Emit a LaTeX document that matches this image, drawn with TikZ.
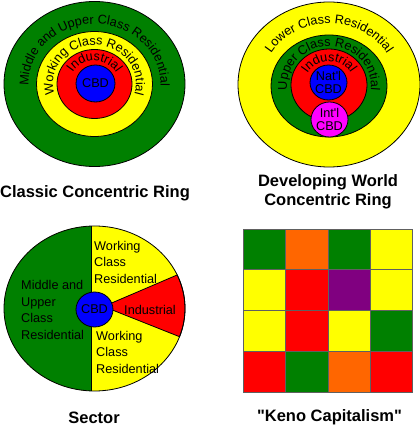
\documentclass[tikz,border=0pt]{standalone}
\usepackage{fontspec}
\setmainfont{Liberation Sans}[Ligatures=TeXOff]
\usetikzlibrary{decorations.text}
\definecolor{cgreen}{HTML}{008000}
\definecolor{cyellow}{HTML}{FFFF00}
\definecolor{cred}{HTML}{FF0000}
\definecolor{cblue}{HTML}{0000FF}
\definecolor{corange}{HTML}{FF6600}
\definecolor{cpurple}{HTML}{800080}
\definecolor{cpink}{HTML}{FF00FF}
\definecolor{gridline}{HTML}{606060}
\newcommand{\lblfont}{\fontsize{12.7}{16.5}\selectfont}
\newcommand{\twofont}{\fontsize{12.7}{12.5}\selectfont}
\newcommand{\ttlfont}{\fontsize{16.5}{18.5}\selectfont\bfseries}
\begin{document}
\begin{tikzpicture}[x=1pt,y=1pt,
  zone/.style={draw=black, line width=0.8pt},
  lbl/.style={font=\lblfont, inner sep=0pt},
  two/.style={font=\twofont, inner sep=0pt, align=center},
  ttl/.style={font=\ttlfont, inner sep=0pt, align=center},
  arclbl/.style={decorate, decoration={text along path, text align=center, text={|\lblfont|#1}}},
  cell/.style={draw=gridline, line width=0.6pt}]
\useasboundingbox (0,0) rectangle (420,426);

% ---------- Classic concentric ring ----------
\coordinate (a) at (94.5,342);
\fill[cgreen, zone] (a) ellipse[x radius=90.5, y radius=82.5];
\fill[cyellow, zone] (a) ellipse[x radius=58, y radius=52.5];
\fill[cred, zone] (a) ellipse[x radius=37.5, y radius=34.5];
\fill[cblue, zone] (95.5,342.5) ellipse[x radius=19.5, y radius=18.5];
\node[lbl] (acbd) at (95.5,342.5) {CBD};
\path[arclbl={Middle and Upper Class Residential}] ([shift={(200:66 and 60)}]a) arc[start angle=200, end angle=-20, x radius=66, y radius=60];
\path[arclbl={Working Class Residential}] ([shift={(230:41.5 and 39)}]a) arc[start angle=230, end angle=-50, x radius=41.5, y radius=39];
\path[arclbl={Industrial}] ([shift={(180:25 and 23)}]a) arc[start angle=180, end angle=0, x radius=25, y radius=23];
\node[ttl, anchor=base] (t1) at (95,228) {Classic Concentric Ring};

% ---------- Developing world ----------
\coordinate (b) at (329,341.5);
\coordinate (bg) at (329,340);
\coordinate (br) at (329,341);
\fill[cyellow, zone] (b) ellipse[x radius=91, y radius=82.5];
\fill[cgreen, zone] (bg) ellipse[x radius=58, y radius=51];
\fill[cred, zone] (br) ellipse[x radius=38, y radius=36];
\fill[cblue, zone] (328.5,343.5) ellipse[x radius=18.5, y radius=17.5];
\fill[cpink, zone] (329.5,306.5) ellipse[x radius=18.5, y radius=17.5];
\node[two] (nat) at (328.5,343.5) {Nat'l\\CBD};
\node[two] (intl) at (329.5,306.5) {Int'l\\CBD};
\path[arclbl={Lower Class Residential}] ([shift={(200:67 and 61)}]b) arc[start angle=200, end angle=-20, x radius=67, y radius=61];
\path[arclbl={Upper Class Residential}] ([shift={(230:42 and 39.5)}]bg) arc[start angle=230, end angle=-50, x radius=42, y radius=39.5];
\path[arclbl={Industrial}] ([shift={(180:25 and 23.5)}]br) arc[start angle=180, end angle=0, x radius=25, y radius=23.5];
\node[ttl, anchor=base] (t2a) at (328,239) {Developing World};
\node[ttl, anchor=base] (t2b) at (328,220.5) {Concentric Ring};

% ---------- Sector ----------
\coordinate (s) at (94.5,117.5);
\fill[cyellow] (s) ellipse[x radius=90.5, y radius=82.5];
\begin{scope}
  \clip (0,0) rectangle (91,426);
  \fill[cgreen] (s) ellipse[x radius=90.5, y radius=82.5];
\end{scope}
\coordinate (apex) at (103.5,119.5);
\filldraw[cred, draw=black, line width=0.8pt] (apex) -- ([shift={(24:90.5 and 82.5)}]s) arc[start angle=24, end angle=-20, x radius=90.5, y radius=82.5] -- cycle;
\coordinate (dtop) at (91,199.9);
\coordinate (dbot) at (91,35.1);
\draw[line width=0.8pt] (dtop) -- (dbot);
\draw[zone] (s) ellipse[x radius=90.5, y radius=82.5];
\fill[cblue, zone] (94.5,116.5) ellipse[x radius=18.5, y radius=17.5];
\node[lbl] (scbd) at (94.5,116.5) {CBD};
\node[lbl, align=left, anchor=west] (w1) at (94,164) {Working\\Class\\Residential};
\node[lbl, align=left, anchor=west] (mu) at (21,116) {Middle and\\Upper\\Class\\Residential};
\node[lbl, align=left, anchor=west] (w2) at (96,74) {Working\\Class\\Residential};
\node[lbl] (ind) at (150,116) {Industrial};
\node[ttl, anchor=base] (t3) at (94,2) {Sector};

% ---------- Keno capitalism ----------
\foreach \row [count=\r from 0] in {{cgreen,corange,cgreen,cyellow},{cyellow,cred,cpurple,cyellow},{cyellow,cred,cyellow,cgreen},{cred,cgreen,corange,cred}} {
  \foreach \c [count=\k from 0] in \row {
    \filldraw[fill=\c, cell] (243.5+\k*42.25, 197-\r*40.75) rectangle ++(42.25,-40.75);
  }
}
\node[ttl, anchor=base] (t4) at (329.5,5) {"Keno Capitalism"};
\end{tikzpicture}
\end{document}
